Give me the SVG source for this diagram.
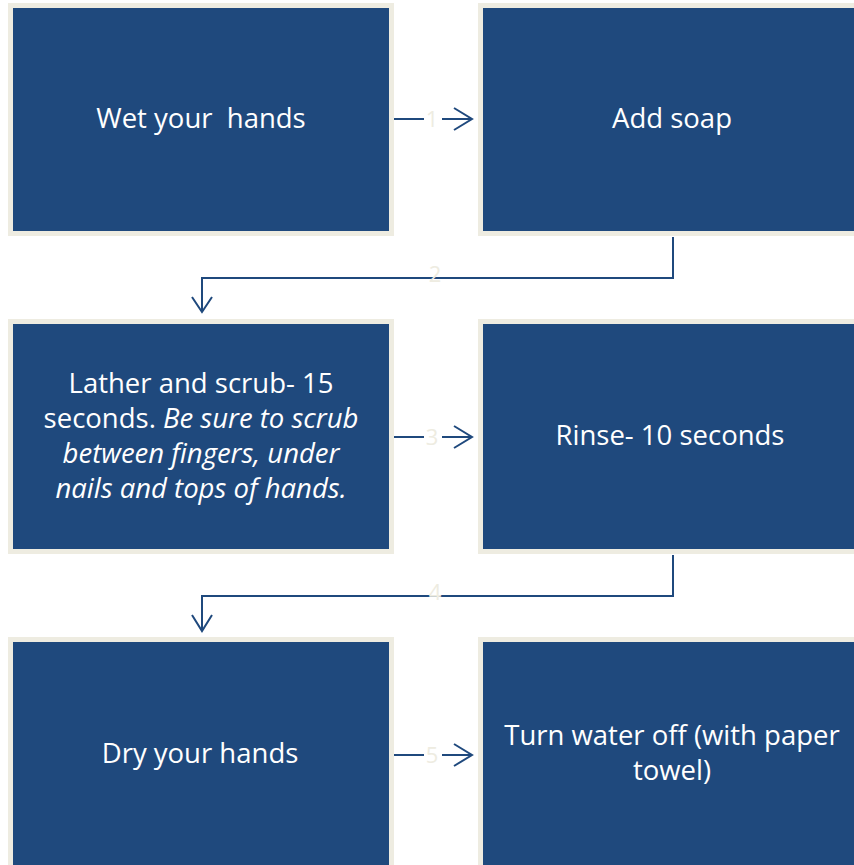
<svg xmlns="http://www.w3.org/2000/svg" width="854" height="865" viewBox="0 0 854 865">
<style>
.box{fill:#1f497d;stroke:#eeece1;stroke-width:5}
.t{fill:#ffffff;font-family:"Open Sans","Noto Sans",sans-serif;font-size:27.5px;text-anchor:middle}
.i{font-style:italic}
.c{fill:none;stroke:#1f497d;stroke-width:2}
.n{fill:#eeece1;font-family:"Open Sans","Noto Sans",sans-serif;font-size:22px;text-anchor:middle}
</style>
<rect width="854" height="865" fill="#ffffff"/>
<g id="node1"><rect class="box" x="10.5" y="5.5" width="381" height="228"/><text class="t" x="201" y="128" xml:space="preserve">Wet your  hands</text></g>
<g id="node2"><rect class="box" x="480.5" y="5.5" width="390" height="228"/><text class="t" x="672" y="128">Add soap</text></g>
<g id="node3"><rect class="box" x="10.5" y="321.5" width="381" height="230"/>
<text class="t" x="201" y="393">Lather and scrub- 15</text>
<text class="t" x="201" y="428">seconds. <tspan class="i">Be sure to scrub</tspan></text>
<text class="t i" x="201" y="463">between fingers, under</text>
<text class="t i" x="201" y="498">nails and tops of hands.</text></g>
<g id="node4"><rect class="box" x="480.5" y="321.5" width="390" height="230"/><text class="t" x="670" y="445">Rinse- 10 seconds</text></g>
<g id="node5"><rect class="box" x="10.5" y="639.5" width="381" height="240"/><text class="t" x="200" y="763">Dry your hands</text></g>
<g id="node6"><rect class="box" x="480.5" y="639.5" width="390" height="240"/><text class="t" x="672" y="745">Turn water off (with paper</text><text class="t" x="672" y="780">towel)</text></g>
<g id="connectors">
<path class="c" d="M394 119H424M442 119H472M454 108L472 119L454 130"/>
<text class="n" x="432" y="127">1</text>
<path class="c" d="M673 237V278H202V312M192 297L202 312L212 297"/>
<text class="n" x="435" y="282">2</text>
<path class="c" d="M394 437H424M442 437H472M454 426L472 437L454 448"/>
<text class="n" x="432" y="445">3</text>
<path class="c" d="M673 555V596H202V631M192 615L202 631L212 615"/>
<text class="n" x="435" y="600">4</text>
<path class="c" d="M394 755H424M442 755H472M454 744L472 755L454 766"/>
<text class="n" x="432" y="763">5</text>
</g>
</svg>
